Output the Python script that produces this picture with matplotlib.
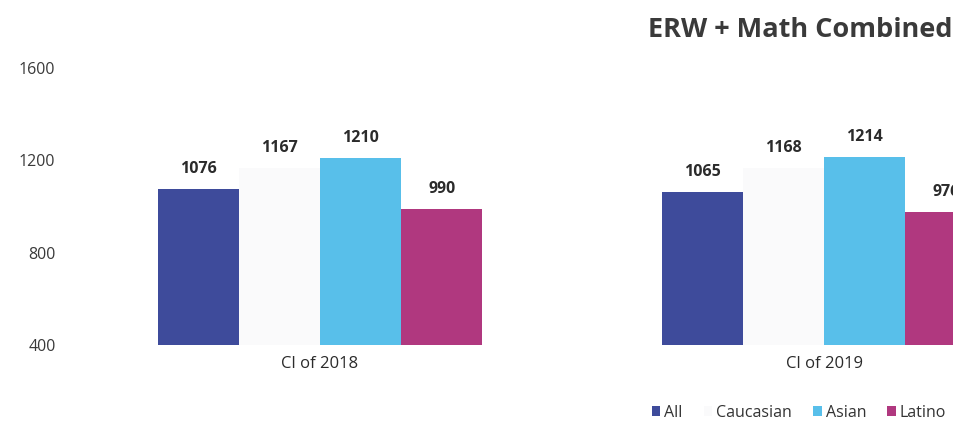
import numpy as np
import matplotlib
matplotlib.use("Agg")
import matplotlib.pyplot as plt

plt.rcParams['font.family'] = ['Open Sans', 'DejaVu Sans']

classes = ['Cl of 2018', 'Cl of 2019']
groups = ['All', 'Caucasian', 'Asian', 'Latino']
scores = {
    'All': [1076, 1065],
    'Caucasian': [1167, 1168],
    'Asian': [1210, 1214],
    'Latino': [990, 976],
}
colours = {
    'All': '#3e4b9b',
    'Caucasian': '#fafafb',
    'Asian': '#58bfea',
    'Latino': '#b0387f',
}
yticks = [400, 800, 1200, 1600]

fig = plt.figure(figsize=(9.54, 4.33), dpi=100)
# the chart is cut off on the right in the original, so the axes run past the figure
ax = fig.add_axes([0.0713, 0.2032, 1.0566, 0.6397])

x = np.arange(len(classes))
w = 0.161
handles = []
for i, g in enumerate(groups):
    pos = x + (i - 1.5) * w
    b = ax.bar(pos, np.array(scores[g]) - 400, width=w, bottom=400,
               color=colours[g], label=g)
    handles.append(b)
    for px, v in zip(pos, scores[g]):
        ax.text(px, v + 52, str(v), ha='center', va='bottom',
                fontsize=11.5, fontweight='bold', color='#2b2b2b')

ax.set_xlim(-0.5, 1.5)
ax.set_ylim(400, 1600)
ax.set_yticks(yticks)
ax.set_yticklabels([str(t) for t in yticks], fontsize=11.5,
                   color='#3a3a3a', fontweight='medium')
ax.set_xticks(x)
ax.set_xticklabels(classes, fontsize=12, color='#2b2b2b')
ax.tick_params(axis='both', length=0)
ax.tick_params(axis='y', pad=9)
ax.tick_params(axis='x', pad=8)
for s in ax.spines.values():
    s.set_visible(False)

fig.text(0.679, 0.93, 'ERW + Math Combined', fontsize=19.5, fontweight='bold',
         color='#3a3a3a', ha='left', va='center')

fig.legend(handles=handles, labels=groups, loc='center left',
           bbox_to_anchor=(0.668, 0.047), ncol=4, frameon=False,
           fontsize=11.5, handlelength=0.55, handleheight=0.55,
           handletextpad=0.25, columnspacing=1.3, labelcolor='#333333')

fig.savefig('out.png', dpi=100)
